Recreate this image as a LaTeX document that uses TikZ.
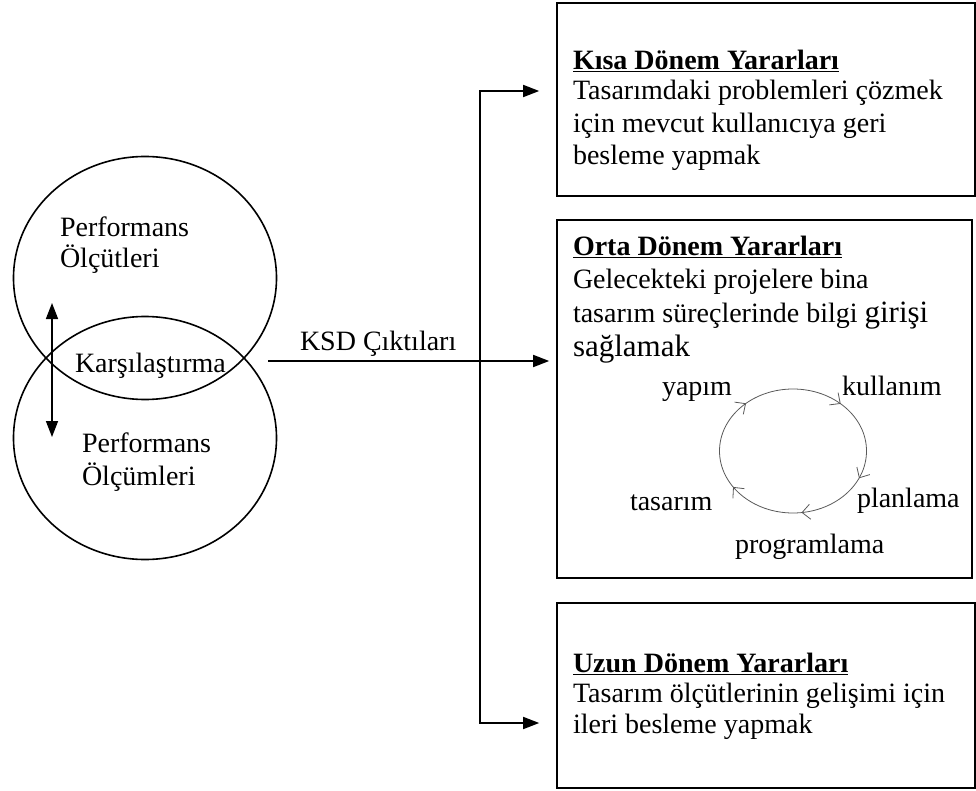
\documentclass[tikz,border=0pt]{standalone}
\usepackage{fontspec}
\setmainfont{Liberation Serif}
\usetikzlibrary{arrows.meta,shapes.geometric,decorations.markings}
\begin{document}
\begin{tikzpicture}[x=1pt,y=-1pt,
  font=\fontsize{28}{32.5}\selectfont,
  box/.style={draw, line width=1.6pt, inner sep=0pt, rectangle},
  txt/.style={anchor=base west, inner sep=0pt, outer sep=0pt},
  head/.style={txt, font=\fontsize{28}{32.5}\selectfont\bfseries},
  circ/.style={draw, line width=1.6pt, ellipse, inner sep=0pt, minimum width=263pt, minimum height=243pt},
  arr/.style={line width=1.6pt, -{Triangle[length=16pt,width=12pt]}},
  darr/.style={line width=1.6pt, {Triangle[length=16pt,width=12pt]}-{Triangle[length=16pt,width=12pt]}},
  ln/.style={line width=1.6pt},
  big/.style={font=\fontsize{31}{32.5}\selectfont},
  chev/.style={},
  cycmark/.style={decoration={markings,
     mark=at position 0.067 with {\arrow{Straight Barb[length=8pt,width=15pt,line width=0.8pt]}},
     mark=at position 0.23 with {\arrow{Straight Barb[length=8pt,width=15pt,line width=0.8pt]}},
     mark=at position 0.408 with {\arrow{Straight Barb[length=8pt,width=15pt,line width=0.8pt]}},
     mark=at position 0.633 with {\arrow{Straight Barb[length=8pt,width=15pt,line width=0.8pt]}},
     mark=at position 0.869 with {\arrow{Straight Barb[length=8pt,width=15pt,line width=0.8pt]}}},
     postaction={decorate}},
  cyc/.style={draw=black!65, line width=0.8pt}]
\useasboundingbox (0,0) rectangle (976,791);

% circles
\node[circ] (u) at (145,278) {};
\node[circ] (l) at (145,438) {};
\node[txt] (pu1) at (60,237) {Performans};
\node[txt] (pu2) at (60,268) {Ölçütleri};
\node[txt] (kar) at (75,372) {Karşılaştırma};
\node[txt] (pl1) at (82,452) {Performans};
\node[txt] (pl2) at (82,485) {Ölçümleri};
\coordinate (da) at (52,303);
\coordinate (db) at (52,437);
\draw[darr] (da) -- (db);

% boxes
\node[box, minimum width=418pt, minimum height=193pt] (b1) at (766,99.5) {};
\node[box, minimum width=415pt, minimum height=358pt] (b2) at (764.5,399) {};
\node[box, minimum width=418pt, minimum height=185pt] (b3) at (766,695.5) {};

% box 1 text
\node[head] (h1) at (573,70) {\underline{Kısa Dönem Yararları}};
\node[txt] (t1a) at (573,100) {Tasarımdaki problemleri çözmek};
\node[txt] (t1b) at (573,133) {için mevcut kullanıcıya geri};
\node[txt] (t1c) at (573,165) {besleme yapmak};

% box 2 text
\node[head] (h2) at (573,256) {\underline{Orta Dönem Yararları}};
\node[txt] (t2a) at (573,289) {Gelecekteki projelere bina};
\node[txt] (t2b) at (573,322) {tasarım süreçlerinde bilgi {\fontsize{31}{32.5}\selectfont girişi}};
\node[txt, big] (t2c) at (573,356) {sağlamak};

% box 3 text
\node[head] (h3) at (573,672) {\underline{Uzun Dönem Yararları}};
\node[txt] (t3a) at (573,702) {Tasarım ölçütlerinin gelişimi için};
\node[txt] (t3b) at (573,733) {ileri besleme yapmak};

% cycle
\coordinate (cc) at (793,451);
\draw[cyc, cycmark] ([xshift=73.5pt]cc) arc[start angle=360, end angle=0, x radius=73.5pt, y radius=62pt];
\node[txt] (c1) at (662,395) {yapım};
\node[txt] (c2) at (842,395) {kullanım};
\node[txt] (c3) at (857,507) {planlama};
\node[txt] (c4) at (630,510) {tasarım};
\node[txt] (c5) at (735,553) {programlama};

% connectors
\coordinate (ks) at (268,361);
\coordinate (jt) at (480,91);
\coordinate (jb) at (480,723);
\node[txt] (ksd) at (300,350) {KSD Çıktıları};
\draw[arr, shorten >=7pt] (ks) -- (b2.west|-ks);
\draw[ln] (jt) -- (jb);
\draw[arr, shorten >=17pt] ([xshift=-0.8pt]jt) -- (b1.west|-jt);
\draw[arr, shorten >=17pt] ([xshift=-0.8pt]jb) -- (b3.west|-jb);
\end{tikzpicture}
\end{document}
